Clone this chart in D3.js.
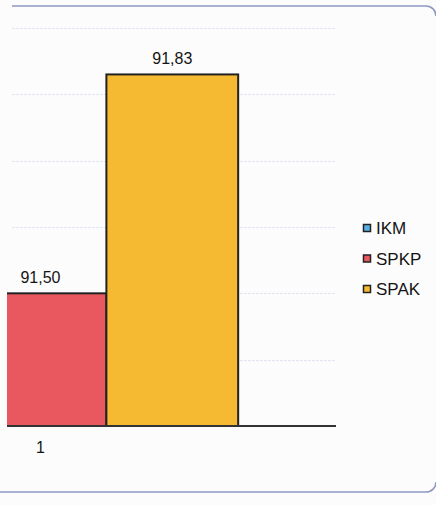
<!DOCTYPE html>
<html>
<head>
<meta charset="utf-8">
<script src="https://cdn.jsdelivr.net/npm/d3@7"></script>
<style>
  html, body { margin: 0; padding: 0; background: #fcfcfd; }
  svg { display: block; }
  text { font-family: "Liberation Sans", Arial, sans-serif; fill: #141414; }
</style>
</head>
<body>
<svg id="chart" width="436" height="505"></svg>
<script>
// Chart data
const categories = ["1"];
const series = ["IKM", "SPKP", "SPAK"];
const values = [null, 91.50, 91.83];          // one value per series, category "1"
const colors = ["#5aaee6", "#e9575f", "#f6b932"];
const yTicks = [91.3, 91.4, 91.5, 91.6, 91.7, 91.8, 91.9];

const W = 436, H = 505;
const svg = d3.select("#chart");

// Plot area (the chart is cropped on the left, so the category band starts off-canvas)
const plot = { left: 7, right: 336, top: 28, bottom: 426 };

const y = d3.scaleLinear()
  .domain([yTicks[0], yTicks[yTicks.length - 1]])
  .range([plot.bottom, plot.top]);

const x0 = d3.scaleBand()
  .domain(categories)
  .range([-256, 337])
  .paddingInner(0)
  .paddingOuter(0.25);

const x1 = d3.scaleBand()
  .domain(series)
  .range([0, x0.bandwidth()]);

const fmt = d3.formatLocale({ decimal: ",", thousands: ".", grouping: [3], currency: ["", ""] }).format(".2f");

// Outer frame (rounded chart border)
svg.append("path")
  .attr("d", `M12,6 H426 A10,10 0 0 1 436,16`)
  .attr("fill", "none").attr("stroke", "#8e97c2").attr("stroke-width", 1.6);
svg.append("path")
  .attr("d", `M0,492 H426 A10,10 0 0 0 436,482`)
  .attr("fill", "none").attr("stroke", "#8e97c2").attr("stroke-width", 1.6);

// Gridlines
svg.append("g")
  .selectAll("line")
  .data(yTicks.slice(1))
  .join("line")
  .attr("x1", 12).attr("x2", plot.right)
  .attr("y1", d => Math.round(y(d)) + 0.5)
  .attr("y2", d => Math.round(y(d)) + 0.5)
  .attr("stroke", "#e2e5ee")
  .attr("stroke-width", 1)
  .attr("stroke-dasharray", "3,1");

// Clip bars to the plot area
svg.append("defs").append("clipPath").attr("id", "plotClip")
  .append("rect")
  .attr("x", plot.left).attr("y", 0)
  .attr("width", plot.right - plot.left).attr("height", plot.bottom);

const rows = series.map((s, i) => ({ series: s, value: values[i], color: colors[i], cat: categories[0] }))
  .filter(d => d.value != null);

const bars = svg.append("g").attr("clip-path", "url(#plotClip)");
bars.selectAll("rect")
  .data(rows)
  .join("rect")
  .attr("x", d => x0(d.cat) + x1(d.series))
  .attr("y", d => y(d.value))
  .attr("width", x1.bandwidth())
  .attr("height", d => y(yTicks[0]) - y(d.value))
  .attr("fill", d => d.color)
  .attr("stroke", "#222")
  .attr("stroke-width", 2);

// Baseline (category axis)
svg.append("line")
  .attr("x1", plot.left).attr("x2", plot.right)
  .attr("y1", plot.bottom).attr("y2", plot.bottom)
  .attr("stroke", "#333").attr("stroke-width", 2);

// Value labels
svg.append("g")
  .selectAll("text")
  .data(rows)
  .join("text")
  .attr("x", d => x0(d.cat) + x1(d.series) + x1.bandwidth() / 2)
  .attr("y", d => y(d.value) - 10)
  .attr("text-anchor", "middle")
  .attr("font-size", 16)
  .text(d => fmt(d.value));

// Category label
svg.append("g")
  .selectAll("text")
  .data(categories)
  .join("text")
  .attr("x", d => x0(d) + x0.bandwidth() / 2)
  .attr("y", 453)
  .attr("text-anchor", "middle")
  .attr("font-size", 16)
  .text(d => d);

// Legend
const legend = svg.append("g").attr("transform", "translate(363,228)");
const li = legend.selectAll("g")
  .data(series)
  .join("g")
  .attr("transform", (d, i) => `translate(0,${i * 30.5})`);
li.append("rect")
  .attr("x", 0.5).attr("y", -3.5)
  .attr("width", 7).attr("height", 7)
  .attr("fill", (d, i) => colors[i])
  .attr("stroke", "#222").attr("stroke-width", 1.5);
li.append("text")
  .attr("x", 13).attr("y", 6)
  .attr("font-size", 17)
  .text(d => d);
</script>
</body>
</html>
